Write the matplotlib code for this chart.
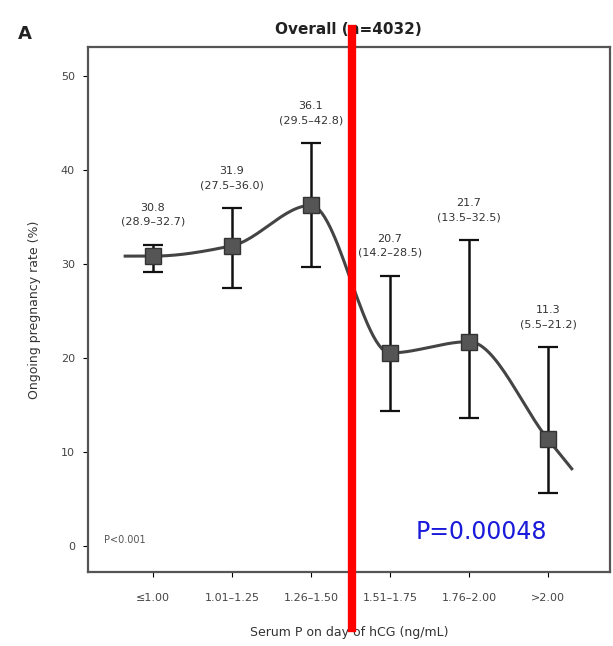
import numpy as np
import matplotlib
matplotlib.use('Agg')
import matplotlib.pyplot as plt

# data
groups = ['≤1.00', '1.01–1.25', '1.26–1.50', '1.51–1.75', '1.76–2.00', '>2.00']
rate = [30.8, 31.9, 36.2, 20.5, 21.7, 11.3]
ci_low = [29.1, 27.4, 29.6, 14.3, 13.6, 5.6]
ci_high = [32.0, 35.9, 42.8, 28.7, 32.5, 21.1]
labels = ['30.8\n(28.9–32.7)', '31.9\n(27.5–36.0)', '36.1\n(29.5–42.8)',
          '20.7\n(14.2–28.5)', '21.7\n(13.5–32.5)', '11.3\n(5.5–21.2)']

x = np.arange(len(groups))
y = np.array(rate)

# monotone cubic line through the points, extended a little at both ends
d = np.diff(y)
tang = np.zeros(len(y))
for i in range(1, len(y) - 1):
    if d[i-1] * d[i] > 0:
        tang[i] = 2.0 / (1.0/d[i-1] + 1.0/d[i])
tang[-1] = d[-1]
xs, ys = [], []
for i in range(len(x) - 1):
    t = np.linspace(0, 1, 30)
    h00 = 2*t**3 - 3*t**2 + 1
    h10 = t**3 - 2*t**2 + t
    h01 = -2*t**3 + 3*t**2
    h11 = t**3 - t**2
    xs.extend(x[i] + t)
    ys.extend(h00*y[i] + h10*tang[i] + h01*y[i+1] + h11*tang[i+1])
xs = [x[0] - 0.35] + xs + [x[-1] + 0.3]
ys = [y[0]] + ys + [y[-1] + 0.3*tang[-1]]

fig = plt.figure(figsize=(6.13, 6.46), dpi=100)
ax = fig.add_axes([0.1436, 0.1146, 0.851, 0.812])

ax.plot(xs, ys, color='#444444', lw=2.2, zorder=2)
err = [y - np.array(ci_low), np.array(ci_high) - y]
ax.errorbar(x, y, yerr=err, fmt='s', color='#222222', ms=11, mfc='#555555',
            mec='#333333', ecolor='#111111', elinewidth=1.8, capsize=7, capthick=1.6, zorder=3)

for xi, hi, lab in zip(x, ci_high, labels):
    ax.annotate(lab, (xi, hi), xytext=(0, 13), textcoords='offset points',
                ha='center', va='bottom', fontsize=8, color='#333333', linespacing=1.5)

ax.set_xlim(-0.82, 5.78)
ax.set_ylim(-2.8, 53)
ax.set_xticks(x)
ax.set_xticklabels(groups, fontsize=8, color='#444444')
ax.tick_params(axis='x', pad=12)
ax.set_yticks([0, 10, 20, 30, 40, 50])
ax.set_yticklabels(['0', '10', '20', '30', '40', '50'], fontsize=8, color='#444444')
ax.tick_params(axis='y', pad=6)
ax.set_xlabel('Serum P on day of hCG (ng/mL)', fontsize=9, color='#333333', labelpad=16)
ax.set_ylabel('Ongoing pregnancy rate (%)', fontsize=9, color='#333333', labelpad=14)
ax.set_title('Overall (n=4032)', fontsize=11, fontweight='bold', color='#222222', pad=10)
for s in ax.spines.values():
    s.set_color('#555555')
    s.set_linewidth(1.6)

ax.text(0.03, 0.055, 'P<0.001', transform=ax.transAxes, fontsize=7, color='#555555')
fig.text(0.03, 0.94, 'A', fontsize=13, fontweight='bold', color='#222222')

# overlay marks
fig.add_artist(plt.Line2D([0.574, 0.574], [0.028, 0.955], color='red', lw=6,
                          transform=fig.transFigure))
fig.text(0.785, 0.176, 'P=0.00048', fontsize=17, color='#1a1adb', ha='center', va='center')

fig.savefig('out.png', dpi=100)
